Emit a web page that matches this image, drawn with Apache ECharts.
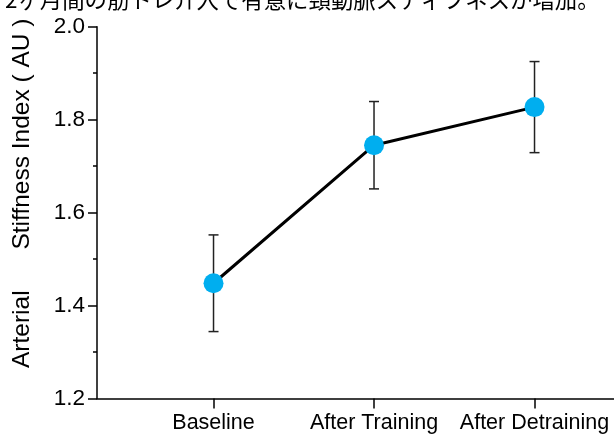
<!DOCTYPE html>
<html>
<head>
<meta charset="utf-8">
<script src="https://cdn.jsdelivr.net/npm/echarts@6/dist/echarts.min.js"></script>
<style>html,body{margin:0;padding:0;background:#fff;}#chart{width:614px;height:437px;}</style>
</head>
<body>
<div id="chart"></div>
<script>
const titleText = '2ヶ月間の筋トレ介入で有意に頸動脈スティフネスが増加。';
const yAxisTitle = 'Arterial      Stiffness Index ( AU )';
const categories = ['Baseline', 'After Training', 'After Detraining'];
const positions = [1, 2, 3];
const means = [1.448, 1.745, 1.827];
const errors = [0.104, 0.094, 0.098];
const yMin = 1.2, yMax = 2.0, yInterval = 0.2;

const FONT = "'Liberation Sans', Arial, 'Noto Sans CJK JP', sans-serif";
const lineData = positions.map((p, i) => [p, means[i]]);
const errData = positions.map((p, i) => [p, means[i] - errors[i], means[i] + errors[i]]);

const chart = echarts.init(document.getElementById('chart'), null, {renderer: 'canvas'});
chart.setOption({
  animation: false,
  backgroundColor: '#fff',
  title: {
    text: titleText,
    left: 0,
    top: -17,
    textStyle: {fontFamily: "'Noto Sans CJK JP', sans-serif", fontSize: 22.4, fontWeight: 'normal', color: '#000'}
  },
  graphic: [{
    type: 'text',
    x: 22, y: 368,
    rotation: Math.PI / 2,
    style: {
      text: yAxisTitle,
      font: "24.5px 'Liberation Sans', Arial, sans-serif",
      fill: '#000',
      textAlign: 'left',
      textVerticalAlign: 'middle'
    }
  }],
  grid: {left: 97, right: 0, top: 26.7, bottom: 38.5, containLabel: false},
  xAxis: {
    type: 'value',
    min: 0.274,
    max: 0.274 + 517 / 160.5,
    axisLine: {show: true, onZero: false, lineStyle: {color: '#000', width: 1.5}},
    axisTick: {show: true, customValues: positions, length: 10, lineStyle: {color: '#000', width: 1.5}},
    axisLabel: {
      show: true, customValues: positions, margin: 14,
      formatter: v => categories[positions.indexOf(Math.round(v))] || '',
      fontFamily: FONT, fontSize: 21.5, color: '#000'
    },
    splitLine: {show: false}
  },
  yAxis: {
    type: 'value',
    min: yMin, max: yMax, interval: yInterval,
    axisLine: {show: true, lineStyle: {color: '#000', width: 1.5}},
    axisTick: {show: true, length: 9, lineStyle: {color: '#000', width: 1.5}},
    minorTick: {show: true, splitNumber: 2, length: 4, lineStyle: {color: '#000', width: 1.5}},
    axisLabel: {
      margin: 12, fontFamily: FONT, fontSize: 22.5, color: '#000',
      formatter: v => v.toFixed(1)
    },
    splitLine: {show: false}
  },
  series: [
    {
      type: 'custom',
      data: errData,
      encode: {x: 0, y: [1, 2]},
      z: 1,
      renderItem: function (params, api) {
        const x = api.value(0);
        const lo = api.coord([x, api.value(1)]);
        const hi = api.coord([x, api.value(2)]);
        const hw = 5;
        const st = {stroke: '#222', lineWidth: 1.5};
        return {
          type: 'group',
          children: [
            {type: 'line', shape: {x1: hi[0], y1: hi[1], x2: lo[0], y2: lo[1]}, style: st},
            {type: 'line', shape: {x1: hi[0] - hw, y1: hi[1], x2: hi[0] + hw, y2: hi[1]}, style: st},
            {type: 'line', shape: {x1: lo[0] - hw, y1: lo[1], x2: lo[0] + hw, y2: lo[1]}, style: st}
          ]
        };
      }
    },
    {
      type: 'line',
      data: lineData,
      z: 3,
      symbol: 'circle',
      symbolSize: 20,
      lineStyle: {color: '#000', width: 3},
      itemStyle: {color: '#00AEEF', borderWidth: 0}
    }
  ]
});
</script>
</body>
</html>
